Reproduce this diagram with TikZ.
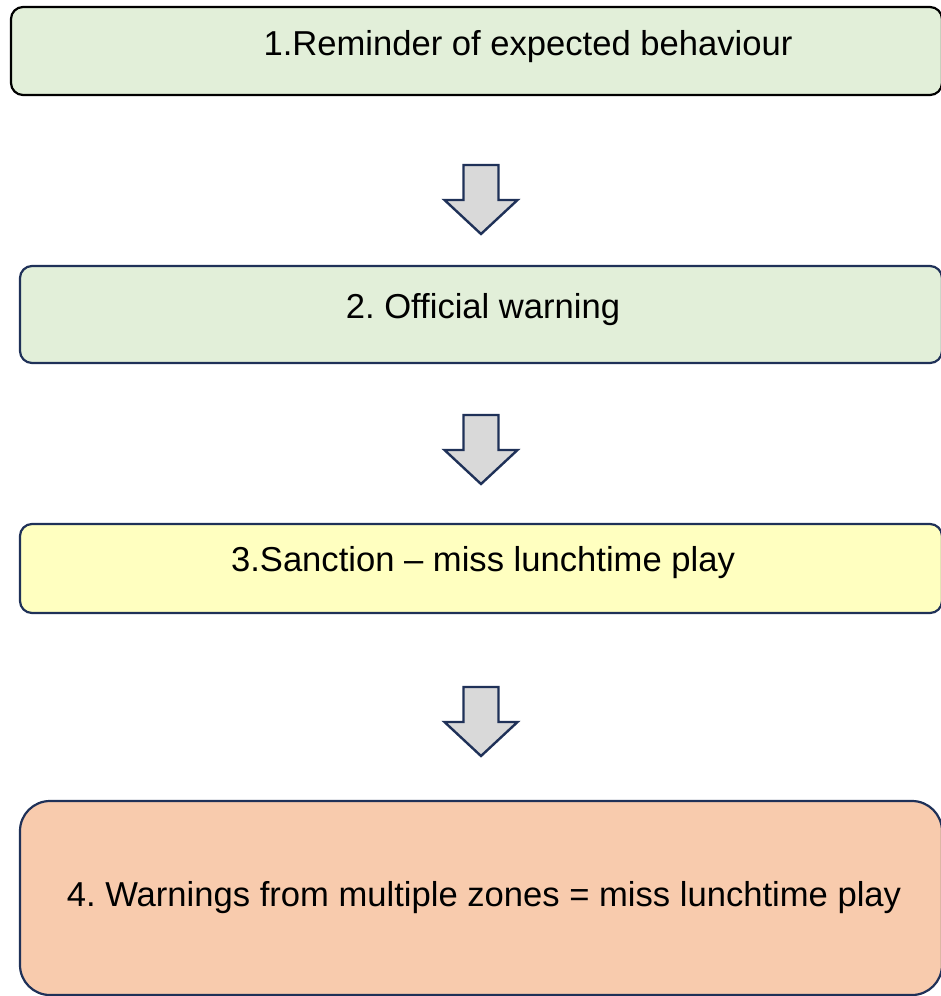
\documentclass[tikz,border=0pt]{standalone}
\usepackage{fontspec}
\setmainfont{Liberation Sans}
\usetikzlibrary{positioning}
\definecolor{navy}{HTML}{1F3158}
\definecolor{greenfill}{HTML}{E2EFD9}
\definecolor{yellowfill}{HTML}{FFFFC0}
\definecolor{peachfill}{HTML}{F8CBAD}
\definecolor{arrowfill}{HTML}{D9D9D9}
\tikzset{
  x=1pt,y=1pt,
  box/.style={draw=navy,line width=2.2pt,rounded corners=12pt,inner sep=0pt},
  label text/.style={font=\fontsize{34.6}{40}\selectfont\frenchspacing,anchor=base,inner sep=0pt},
  blockarrow/.style={draw=navy,fill=arrowfill,line width=2.4pt,line join=miter},
}
\newcommand\downarrowshape[2]{% #1 = x centre, #2 = y top
  \draw[blockarrow] (#1-17.5,#2) -- (#1+17.5,#2) -- (#1+17.5,#2-35) -- (#1+36.5,#2-35)
    -- (#1,#2-69) -- (#1-36.5,#2-35) -- (#1-17.5,#2-35) -- cycle;}
\begin{document}
\begin{tikzpicture}
\useasboundingbox (0,0) rectangle (941,-996);
\begin{scope}
\clip (0,0) rectangle (941,-996);
% boxes
\node[box,draw=black,fill=greenfill,minimum width=931pt,minimum height=88pt] (b1) at (476.5,-51) {};
\node[box,fill=greenfill,minimum width=922pt,minimum height=97pt] (b2) at (481,-314.5) {};
\node[box,fill=yellowfill,minimum width=922pt,minimum height=89pt] (b3) at (481,-568.5) {};
\node[box,fill=peachfill,rounded corners=30pt,minimum width=922pt,minimum height=194pt] (b4) at (481,-898) {};
% texts
\node[label text] (t1) at (528,-55) {1.Reminder of expected behaviour};
\node[label text] (t2) at (483,-318) {2. Official warning};
\node[label text] (t3) at (483,-571) {3.Sanction – miss lunchtime play};
\node[label text] (t4) at (484,-906) {4. Warnings from multiple zones = miss lunchtime play};
% arrows
\downarrowshape{481}{-165}
\downarrowshape{481}{-415}
\downarrowshape{481}{-687}
\end{scope}
\end{tikzpicture}
\end{document}
